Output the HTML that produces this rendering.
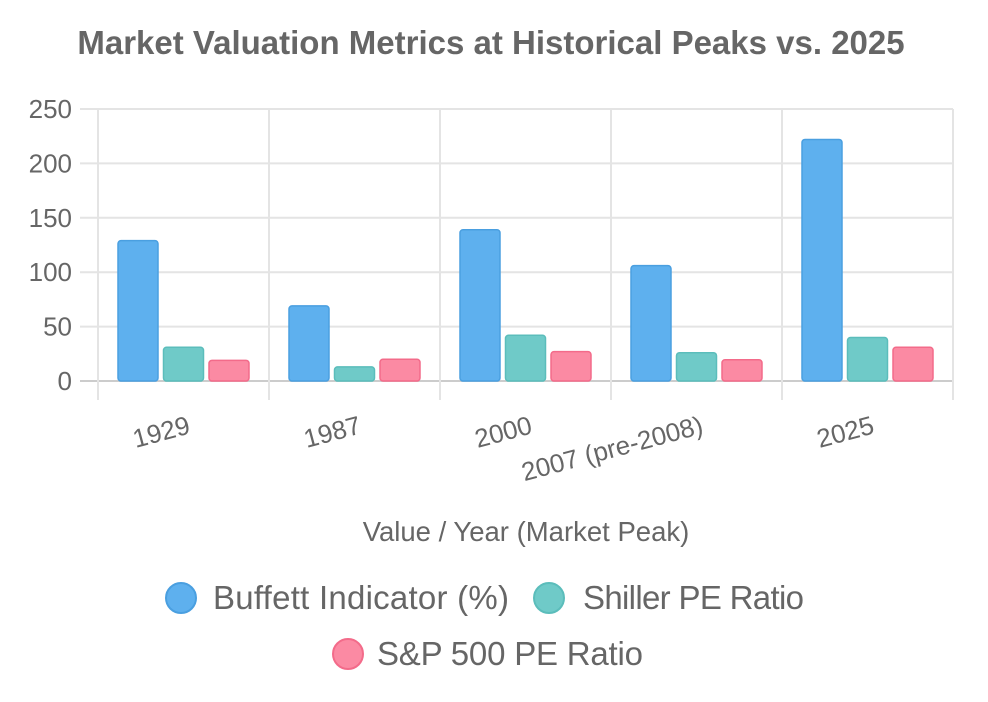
<!DOCTYPE html>
<html><head><meta charset="utf-8"><style>
body{margin:0;background:#fff;font-family:"Liberation Sans",sans-serif;}
svg{display:block}
</style></head><body>
<svg id="chart" width="988" height="702">
<text x="491" y="54" text-anchor="middle" font-size="33" font-weight="bold" fill="#666">Market Valuation Metrics at Historical Peaks vs. 2025</text>
<g id="grid"></g><g id="bars"></g><g id="labels"></g>
<text x="526" y="541" text-anchor="middle" font-size="27.5" fill="#666">Value / Year (Market Peak)</text>
<g>
<g><circle cx="181" cy="598" r="15" fill="#5eb0ee" stroke="#4a9fe0" stroke-width="2"/><text x="213" y="609" font-size="33" fill="#666" textLength="296">Buffett Indicator (%)</text></g>
<g><circle cx="549" cy="598" r="15" fill="#6fcac8" stroke="#5bbdbb" stroke-width="2"/><text x="583" y="609" font-size="33" fill="#666" textLength="221">Shiller PE Ratio</text></g>
<g><circle cx="348" cy="654" r="15" fill="#fb8aa3" stroke="#f36b8a" stroke-width="2"/><text x="377" y="665" font-size="33" fill="#666" textLength="266">S&amp;P 500 PE Ratio</text></g>
</g>
</svg>
<script>
const categories=["1929","1987","2000","2007 (pre-2008)","2025"];
const buffett=[129,69,139,106,222];
const shiller=[31,13,42,26,40];
const sp500=[19,20,27,19.5,31];
const yTicks=[0,50,100,150,200,250];
const NS="http://www.w3.org/2000/svg";
const L=98,R=953,T=109,B=381,yMax=250;
const y=v=>B-(v/yMax)*(B-T);
const cw=(R-L)/categories.length;
const x=i=>L+cw*i;
function mk(tag,attrs,parent){const e=document.createElementNS(NS,tag);for(const k in attrs)e.setAttribute(k,attrs[k]);parent.appendChild(e);return e;}
const grid=document.getElementById('grid'),bars=document.getElementById('bars'),labels=document.getElementById('labels');
yTicks.forEach(t=>{
 const l=mk('line',{x1:80,x2:R,y1:y(t),y2:y(t),stroke:t===0?'#ccc':'#e4e4e4','stroke-width':2},grid);
 
 
 const tx=mk('text',{x:72,y:y(t)+9,'text-anchor':'end','font-size':26,fill:'#666'},labels);
 tx.textContent=t;
 
 
});
for(let i=0;i<=categories.length;i++){
 const l=mk('line',{x1:x(i),x2:x(i),y1:T,y2:400,stroke:'#e4e4e4','stroke-width':2},grid);
 
 
}
const series=[[buffett,'#5eb0ee','#4a9fe0','buffett'],[shiller,'#6fcac8','#5bbdbb','shiller'],[sp500,'#fb8aa3','#f36b8a','sp500']];
const bw=40,gap=5.5,off=20;
categories.forEach((c,i)=>{
 series.forEach((s,j)=>{
  const v=s[0][i];const bx=x(i)+off+j*(bw+gap);
  const r=mk('rect',{x:bx,y:y(v),width:bw,height:B-y(v),fill:s[1],stroke:s[2],'stroke-width':1.5,rx:3},bars);
  
  
 });
 const ax=x(i)+cw/2+8, ay=433;
 const tx=mk('text',{x:ax,y:ay,'text-anchor':'end','font-size':26,fill:'#666',transform:`rotate(-15 ${ax} ${ay})`},labels);
 tx.textContent=c;
 
 
});
</script>
</body></html>
